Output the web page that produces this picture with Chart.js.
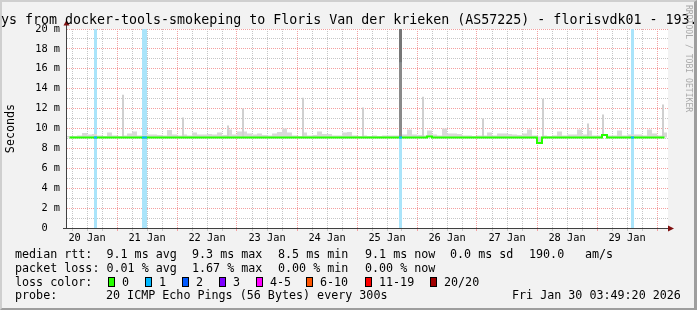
<!DOCTYPE html>
<html>
<head>
<meta charset="utf-8">
<script src="https://cdn.jsdelivr.net/npm/chart.js@4.4.0/dist/chart.umd.min.js"></script>
<style>
  html, body { margin: 0; padding: 0; }
  body { width: 697px; height: 310px; position: relative; overflow: hidden; font-family: 'DejaVu Sans Mono', monospace; }
  #frame { position: absolute; left: 0; top: 0; width: 697px; height: 310px; box-sizing: border-box; background: #f2f2f2;
    border-top: 2px solid #cfcfcf; border-left: 2px solid #cfcfcf; border-right: 3px solid #9e9e9e; border-bottom: 2px solid #9e9e9e; }
  #chart { position: absolute; left: 0; top: 0; }
  #titlebox { position: absolute; left: 0; top: 12px; width: 694px; overflow: hidden; }
  #title { padding-left: 1px; font-size: 13.3px; line-height: 16px; white-space: pre; color: #000; }
  #rrd { position: absolute; left: 684px; top: 5px; writing-mode: vertical-rl; font-size: 8.1px; line-height: 9px; color: #a9a9a9; white-space: pre; }
  .t { position: absolute; white-space: pre; color: #000; font-size: 11.7px; line-height: 14px; }
  .box { position: absolute; top: 277px; width: 5px; height: 8px; border: 1px solid #000; }
</style>
</head>
<body>
<div id="frame"></div>
<canvas id="chart" width="697" height="250"></canvas>
<div id="titlebox"><div id="title">ys from docker-tools-smokeping to Floris Van der krieken (AS57225) - florisvdk01 - 193.</div></div>
<div id="rrd">RRDTOOL / TOBI OETIKER</div>

<div class="t" style="left:15px;top:247px">median rtt:  9.1 ms avg</div>
<div class="t" style="left:192px;top:247px">9.3 ms max</div>
<div class="t" style="left:278px;top:247px">8.5 ms min</div>
<div class="t" style="left:365px;top:247px">9.1 ms now</div>
<div class="t" style="left:450px;top:247px">0.0 ms sd</div>
<div class="t" style="left:529px;top:247px">190.0</div>
<div class="t" style="left:585px;top:247px">am/s</div>

<div class="t" style="left:15px;top:261px">packet loss: 0.01 % avg</div>
<div class="t" style="left:192px;top:261px">1.67 % max</div>
<div class="t" style="left:278px;top:261px">0.00 % min</div>
<div class="t" style="left:365px;top:261px">0.00 % now</div>

<div class="t" style="left:15px;top:275px">loss color:</div>
<div id="losslegend"></div>

<div class="t" style="left:15px;top:288px">probe:</div>
<div class="t" style="left:106px;top:288px">20 ICMP Echo Pings (56 Bytes) every 300s</div>
<div class="t" style="left:512px;top:288px">Fri Jan 30 03:49:20 2026</div>

<script>
"use strict"

// time axis is in hours since 20 Jan 00:00, one slot every 2 hours (slot centre = 5 + 2*i)
const slotStart = 5;
const slotStep = 2;

const medianRtt = [
    9.1, 9.1, 9.1, 9.1, 9.1, 9.1, 9.1, 9.1, 9.1, 9.1,
    9.1, 9.1, 9.1, 9.1, 9.1, 9.1, 9.1, 9.1, 9.1, 9.1,
    9.1, 9.1, 9.1, 9.1, 9.1, 9.1, 9.1, 9.1, 9.1, 9.1,
    9.1, 9.1, 9.1, 9.1, 9.1, 9.1, 9.1, 9.1, 9.1, 9.1,
    9.1, 9.1, 9.1, 9.1, 9.1, 9.1, 9.1, 9.1, 9.1, 9.1,
    9.1, 9.1, 9.1, 9.1, 9.1, 9.1, 9.1, 9.1, 9.1, 9.1,
    9.1, 9.1, 9.1, 9.1, 9.1, 9.1, 9.1, 9.1, 9.1, 9.1,
    9.1, 9.1, 9.2, 9.1, 9.1, 9.1, 9.1, 9.1, 9.1, 9.1,
    9.1, 9.1, 9.1, 9.1, 9.1, 9.1, 9.1, 9.1, 9.1, 9.1,
    9.1, 9.1, 9.1, 9.1, 8.55, 9.1, 9.1, 9.1, 9.1, 9.1,
    9.1, 9.1, 9.1, 9.1, 9.1, 9.1, 9.1, 9.35, 9.1, 9.1,
    9.1, 9.1, 9.1, 9.1, 9.1, 9.1, 9.1, 9.1, 9.1, 9.1,
];

// upper edge of the smoke in each slot
const smokeTop = [
    9.25, 9.25, 9.3, 9.55, 9.4, 9.45, 9.3, 9.25, 9.6, 9.3,
    9.25, 9.3, 9.5, 9.7, 9.3, 9.3, 9.4, 9.4, 9.35, 9.3,
    9.85, 9.4, 9.3, 9.4, 9.3, 9.6, 9.4, 9.4, 9.45, 9.4,
    9.6, 9.35, 9.9, 9.4, 9.7, 9.7, 9.5, 9.4, 9.5, 9.35,
    9.3, 9.5, 9.65, 10.0, 9.6, 9.3, 9.25, 9.6, 9.3, 9.35,
    9.7, 9.45, 9.45, 9.3, 9.3, 9.6, 9.65, 9.3, 9.25, 9.3,
    9.25, 9.3, 9.25, 9.3, 9.3, 9.3, 9.3, 9.4, 9.9, 9.4,
    9.35, 9.3, 9.8, 9.4, 9.3, 10.0, 9.5, 9.5, 9.45, 9.3,
    9.3, 9.25, 9.3, 9.3, 9.6, 9.3, 9.5, 9.5, 9.45, 9.4,
    9.35, 9.5, 9.9, 9.3, 9.2, 9.3, 9.25, 9.3, 9.7, 9.3,
    9.4, 9.4, 9.9, 9.4, 9.8, 9.3, 9.3, 9.4, 9.3, 9.3,
    9.8, 9.3, 9.4, 9.4, 9.4, 9.3, 9.9, 9.5, 9.3, 9.6,
];

// single slow pings (thin smoke spikes)
const spikeHours = [26.4, 50.4, 68.4, 74.4, 98.4, 122.4, 146.4, 170.4, 194.4, 212.4, 218.4, 242.4];
const spikeTop = [13.4, 11.1, 10.3, 12.0, 13.1, 12.1, 13.2, 11.0, 13.0, 10.5, 11.4, 12.4];

// the big burst on 25 Jan
const burstHours = [137.4];
const burstLow = [9.1];
const burstMid = [16.6];
const burstHigh = [20];

// periods with 1/20 packets lost [from, to] in hours
const lossPeriods = [[14.8, 16.0], [34.0, 36.0], [136.8, 138.0], [229.6, 230.8]];

const dayLabels = ['20 Jan', '21 Jan', '22 Jan', '23 Jan', '24 Jan', '25 Jan', '26 Jan', '27 Jan', '28 Jan', '29 Jan'];

const lossColors = ['#26ff00', '#00b8ff', '#0059ff', '#7e00ff', '#ff00ff', '#ff5500', '#ff0000', '#a10000'];
const lossNames = ['0', '1', '2', '3', '4-5', '6-10', '11-19', '20/20'];
const lossBoxX = [108, 145, 182, 219, 256, 306, 365, 430];

// loss colour legend
let lossLegend = document.getElementById('losslegend');
lossNames.forEach(function (name, i) {
    let box = document.createElement('div');
    box.className = 'box';
    box.style.left = lossBoxX[i] + 'px';
    box.style.background = lossColors[i];
    lossLegend.appendChild(box);
    let label = document.createElement('div');
    label.className = 't';
    label.style.left = (lossBoxX[i] + 14) + 'px';
    label.style.top = '275px';
    label.textContent = name;
    lossLegend.appendChild(label);
});

function medianAt(h) {
    let i = Math.round((h - slotStart) / slotStep);
    i = Math.max(0, Math.min(medianRtt.length - 1, i));
    return medianRtt[i];
}

const slotHours = medianRtt.map((v, i) => slotStart + i * slotStep);

let lossBand = [];
let lossMedian = [];
lossPeriods.forEach(function (p) {
    lossBand.push({x: p[0], y: 20}, {x: p[1], y: 20}, {x: p[1], y: null});
    lossMedian.push({x: p[0], y: medianAt(p[0])}, {x: p[1], y: medianAt(p[1])}, {x: p[1], y: null});
});

const redGrid = '#f4a0a0';
const grayGrid = '#c6c6c6';

const plotFrame = {
    id: 'plotFrame',
    beforeDraw(chart) {
        const {ctx, chartArea: a} = chart;
        ctx.save();
        ctx.fillStyle = '#ffffff';
        ctx.fillRect(a.left, a.top, a.right - a.left, a.bottom - a.top);
        ctx.restore();
    },
    afterDatasetsDraw(chart) {
        const {ctx, chartArea: a} = chart;
        const x0 = a.left - 0.5;
        const y0 = a.bottom + 0.5;
        ctx.save();
        ctx.strokeStyle = '#404040';
        ctx.lineWidth = 1;
        ctx.beginPath();
        ctx.moveTo(x0, y0);
        ctx.lineTo(x0, a.top - 4);
        ctx.moveTo(a.left - 4, y0);
        ctx.lineTo(a.right + 3, y0);
        ctx.stroke();
        ctx.fillStyle = '#7f1010';
        ctx.beginPath();
        ctx.moveTo(x0 - 3, a.top - 3.5);
        ctx.lineTo(x0, a.top - 9);
        ctx.lineTo(x0 + 3, a.top - 3.5);
        ctx.closePath();
        ctx.fill();
        ctx.beginPath();
        ctx.moveTo(a.right, y0 - 3);
        ctx.lineTo(a.right + 6, y0);
        ctx.lineTo(a.right, y0 + 3);
        ctx.closePath();
        ctx.fill();
        ctx.restore();
    }
};

Chart.defaults.font.family = 'DejaVu Sans Mono';
Chart.defaults.color = '#000000';

let smokeChart = new Chart(document.getElementById('chart'), {
    type: 'line',
    data: {
        datasets: [
            {
                label: 'loss',
                data: lossBand,
                order: 6,
                borderWidth: 0,
                pointRadius: 0,
                fill: 'origin',
                backgroundColor: '#aae4fa',
            },
            {
                type: 'bar',
                label: 'smoke',
                data: slotHours.map((h, i) => ({x: h, y: [medianRtt[i], smokeTop[i]]})),
                order: 5,
                grouped: false,
                barThickness: 5,
                inflateAmount: 0,
                borderWidth: 0,
                backgroundColor: '#d9d9d9',
            },
            {
                type: 'bar',
                label: 'spikes',
                data: spikeHours.map((h, i) => ({x: h, y: [medianAt(h), spikeTop[i]]})),
                order: 4,
                grouped: false,
                barThickness: 2,
                inflateAmount: 0,
                borderWidth: 0,
                backgroundColor: '#d0d0d0',
            },
            {
                type: 'bar',
                label: 'burst low',
                data: burstHours.map((h, i) => ({x: h, y: [burstLow[i], burstMid[i]]})),
                order: 3,
                grouped: false,
                barThickness: 3,
                inflateAmount: 0,
                borderWidth: 0,
                backgroundColor: '#8a8a8a',
            },
            {
                type: 'bar',
                label: 'burst high',
                data: burstHours.map((h, i) => ({x: h, y: [burstMid[i], burstHigh[i]]})),
                order: 3,
                grouped: false,
                barThickness: 3,
                inflateAmount: 0,
                borderWidth: 0,
                backgroundColor: '#767676',
            },
            {
                label: 'median rtt',
                data: slotHours.map((h, i) => ({x: h, y: medianRtt[i]})),
                order: 2,
                stepped: 'middle',
                borderColor: '#26ff00',
                borderWidth: 2,
                pointRadius: 0,
                fill: false,
            },
            {
                label: 'median rtt loss',
                data: lossMedian,
                order: 1,
                borderColor: '#00b8ff',
                borderWidth: 2,
                pointRadius: 0,
                fill: false,
            },
        ]
    },
    options: {
        responsive: false,
        devicePixelRatio: 1,
        animation: false,
        events: [],
        layout: {
            padding: {top: 29, left: 0, right: 29, bottom: 0}
        },
        scales: {
            x: {
                type: 'linear',
                min: 4,
                max: 244.4,
                offset: false,
                afterFit: (scale) => { scale.height = 22; },
                afterBuildTicks: (scale) => {
                    let t = [];
                    for (let h = 6; h <= 240; h += 6) t.push({value: h});
                    scale.ticks = t;
                },
                grid: {
                    offset: false,
                    color: (ctx) => ctx.tick && ctx.tick.value % 24 === 0 ? redGrid : grayGrid,
                    lineWidth: 1,
                    drawTicks: true,
                    tickLength: 3,
                },
                border: {display: false, dash: [1, 1]},
                ticks: {
                    autoSkip: false,
                    maxRotation: 0,
                    padding: 1,
                    font: {size: 10.3},
                    color: '#000000',
                    callback: (v) => v % 24 === 12 ? dayLabels[(v - 12) / 24] : '',
                }
            },
            y: {
                min: 0,
                max: 20,
                afterFit: (scale) => { scale.width = 67; },
                grid: {
                    color: (ctx) => ctx.tick && ctx.tick.value % 2 === 0 ? redGrid : grayGrid,
                    lineWidth: 1,
                    drawTicks: false,
                },
                border: {display: false, dash: [1, 1]},
                ticks: {
                    stepSize: 1,
                    autoSkip: false,
                    padding: 7,
                    font: {size: 10.3},
                    color: '#000000',
                    callback: (v) => v % 2 !== 0 ? '' : (v === 0 ? '0  ' : v + ' m'),
                },
                title: {
                    display: true,
                    text: 'Seconds',
                    font: {size: 11.7},
                    color: '#000000',
                    padding: {top: 3.5, bottom: 0},
                }
            }
        },
        plugins: {
            legend: {display: false},
            tooltip: {enabled: false},
        }
    },
    plugins: [plotFrame]
});
</script>
</body>
</html>
